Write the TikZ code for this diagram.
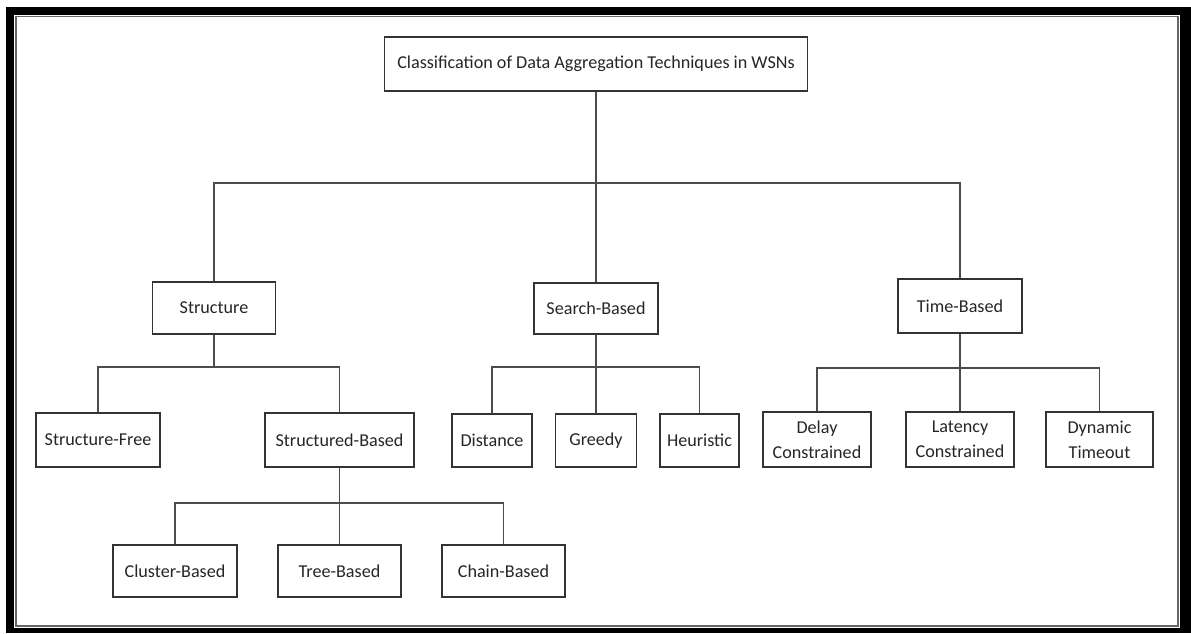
\documentclass[tikz,border=0pt]{standalone}
\usepackage{fontspec}
\setmainfont{Carlito}
\usepackage{tikz}
\usetikzlibrary{positioning, calc}

\tikzset{
    box/.style={draw=black!80, line width=1.1pt, fill=white, align=center,
        inner sep=2pt, text=black!85, font=\fontsize{13.6}{19}\selectfont},
    boxsize/.style 2 args={minimum width=#1*0.75pt, minimum height=#2*0.75pt},
    link/.style={draw=black!70, line width=1.1pt}
}

\begin{document}
\begin{tikzpicture}[x=0.75pt, y=-0.75pt]
        \useasboundingbox (0,0) rectangle (1191,633);

        % Frame
        \fill[black] (6,7) rectangle (1191,633);
        \fill[white] (14,15) rectangle (1180,628);
        \draw[black!60, line width=0.8pt] (16,16.5) rectangle (1178,626);

        % Root
        \node[box, boxsize={423}{54}] (root) at (596,64)
            {Classification of Data Aggregation Techniques in WSNs};

        % First level
        \node[box, boxsize={123}{52}] (structure) at (214,308) {Structure};
        \node[box, boxsize={124}{51}] (search) at (596,308.5) {Search-Based};
        \node[box, boxsize={124}{54}] (time) at (960,306) {Time-Based};

        % Under Structure
        \node[box, boxsize={124}{54}] (sfree) at (98,440) {Structure-Free};
        \node[box, boxsize={149}{54}] (sbased) at (339.5,440) {Structured-Based};
        \node[box, boxsize={124}{52}] (cluster) at (175,571) {Cluster-Based};
        \node[box, boxsize={123}{52}] (tree) at (339.5,571) {Tree-Based};
        \node[box, boxsize={123}{52}] (chain) at (503.5,571) {Chain-Based};

        % Under Search-Based
        \node[box, boxsize={80}{53}] (distance) at (492,440.5) {Distance};
        \node[box, boxsize={81}{53}] (greedy) at (596,440.5) {Greedy};
        \node[box, boxsize={79}{53}] (heuristic) at (699.5,440.5) {Heuristic};

        % Under Time-Based
        \node[box, boxsize={108}{55}] (delay) at (817,439.5) {Delay\\Constrained};
        \node[box, boxsize={108}{55}] (latency) at (960,439.5) {Latency\\Constrained};
        \node[box, boxsize={107}{55}] (dynamic) at (1099.5,439.5) {Dynamic\\Timeout};

        % Bus points
        \coordinate (bus0) at (596,183);
        \coordinate (bus1) at (214,367);
        \coordinate (bus2) at (596,367);
        \coordinate (bus3) at (960,368);
        \coordinate (bus4) at (339.5,503);

        % Connectors
        \draw[link] (root.south) -- (search.north);
        \draw[link] (structure.north) |- (bus0) -| (time.north);
        \draw[link] (structure.south) -- (bus1);
        \draw[link] (sfree.north) |- (bus1) -| (sbased.north);
        \draw[link] (search.south) -- (greedy.north);
        \draw[link] (distance.north) |- (bus2) -| (heuristic.north);
        \draw[link] (time.south) -- (latency.north);
        \draw[link] (delay.north) |- (bus3) -| (dynamic.north);
        \draw[link] (sbased.south) -- (tree.north);
        \draw[link] (cluster.north) |- (bus4) -| (chain.north);
    \end{tikzpicture}
\end{document}
